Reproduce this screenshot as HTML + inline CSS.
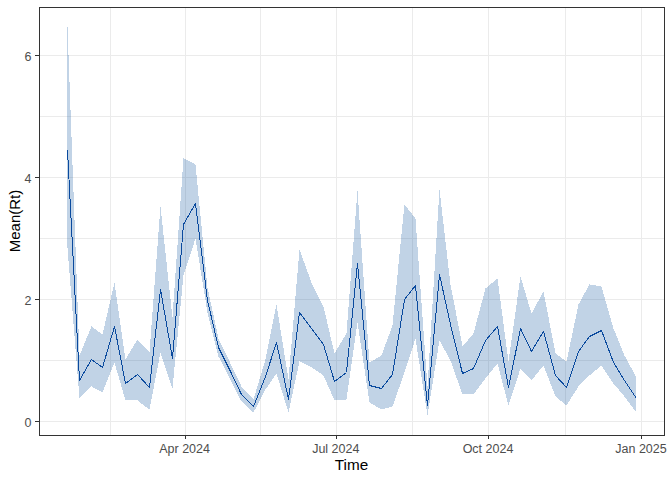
<!DOCTYPE html>
<html><head><meta charset="utf-8"><style>
html,body{margin:0;padding:0;background:#fff;width:672px;height:480px;overflow:hidden}
svg{display:block}
text{font-family:"Liberation Sans",sans-serif}
.ax{font-size:12.5px;fill:#4D4D4D}
.ti{font-size:15.3px;fill:#000}
</style></head><body>
<svg width="672" height="480" viewBox="0 0 672 480">
<rect x="0" y="0" width="672" height="480" fill="#fff"/>
<rect x="40" y="55" width="624" height="1" fill="#EBEBEB"/><rect x="40" y="116" width="624" height="1" fill="#EBEBEB"/><rect x="40" y="177" width="624" height="1" fill="#EBEBEB"/><rect x="40" y="238" width="624" height="1" fill="#EBEBEB"/><rect x="40" y="299" width="624" height="1" fill="#EBEBEB"/><rect x="40" y="360" width="624" height="1" fill="#EBEBEB"/><rect x="40" y="421" width="624" height="1" fill="#EBEBEB"/><rect x="110" y="8" width="1" height="427" fill="#EBEBEB"/><rect x="185" y="8" width="1" height="427" fill="#EBEBEB"/><rect x="260" y="8" width="1" height="427" fill="#EBEBEB"/><rect x="336" y="8" width="1" height="427" fill="#EBEBEB"/><rect x="412" y="8" width="1" height="427" fill="#EBEBEB"/><rect x="488" y="8" width="1" height="427" fill="#EBEBEB"/><rect x="565" y="8" width="1" height="427" fill="#EBEBEB"/><rect x="641" y="8" width="1" height="427" fill="#EBEBEB"/>
<polygon points="67.47,26.47 79.47,355.47 91.47,326.47 102.47,334.47 114.47,282.47 125.47,359.47 137.47,339.47 149.47,352.47 160.47,206.47 172.47,317.47 183.47,158.47 195.47,164.47 207.47,287.47 218.47,338.47 230.47,363.47 241.47,386.47 253.47,399.47 265.47,359.47 276.47,304.47 288.47,379.47 299.47,249.47 311.47,282.47 323.47,306.47 334.47,353.47 346.47,333.47 357.47,190.47 369.47,362.47 381.47,355.47 392.47,325.47 404.47,204.47 415.47,218.47 427.47,386.47 439.47,189.47 450.47,284.47 462.47,346.47 473.47,333.47 485.47,288.47 497.47,278.47 508.47,361.47 520.47,276.47 531.47,313.47 543.47,291.47 555.47,353.47 566.47,361.47 578.47,304.47 589.47,284.47 601.47,286.47 613.47,328.47 624.47,355.47 636.47,377.47 636.47,412.47 624.47,396.47 613.47,383.47 601.47,365.47 589.47,375.47 578.47,386.47 566.47,405.47 555.47,396.47 543.47,365.47 531.47,380.47 520.47,368.47 508.47,405.47 497.47,363.47 485.47,378.47 473.47,394.47 462.47,394.47 450.47,360.47 439.47,340.47 427.47,415.47 415.47,338.47 404.47,372.47 392.47,406.47 381.47,409.47 369.47,402.47 357.47,322.47 346.47,399.47 334.47,400.47 323.47,375.47 311.47,367.47 299.47,361.47 288.47,412.47 276.47,373.47 265.47,389.47 253.47,412.47 241.47,401.47 230.47,379.47 218.47,356.47 207.47,312.47 195.47,238.47 183.47,275.47 172.47,388.47 160.47,352.47 149.47,409.47 137.47,400.47 125.47,400.47 114.47,362.47 102.47,392.47 91.47,386.47 79.47,398.47 67.47,247.47" fill="#08519C" fill-opacity="0.25" shape-rendering="crispEdges"/>
<polyline points="67.50,150.50 79.50,380.50 91.50,359.50 102.50,367.50 114.50,326.50 125.50,383.50 137.50,374.50 149.50,387.50 160.50,289.50 172.50,358.50 183.50,224.50 195.50,203.50 207.50,300.50 218.50,347.50 230.50,371.50 241.50,394.50 253.50,406.50 265.50,376.50 276.50,342.50 288.50,399.50 299.50,312.50 311.50,328.50 323.50,344.50 334.50,381.50 346.50,372.50 357.50,263.50 369.50,385.50 381.50,388.50 392.50,374.50 404.50,299.50 415.50,285.50 427.50,405.50 439.50,274.50 450.50,324.50 462.50,373.50 473.50,368.50 485.50,340.50 497.50,326.50 508.50,387.50 520.50,328.50 531.50,351.50 543.50,331.50 555.50,375.50 566.50,387.50 578.50,351.50 589.50,336.50 601.50,330.50 613.50,362.50 624.50,380.50 636.50,398.50" fill="none" stroke="#0A4A9E" stroke-width="1" stroke-linejoin="round" shape-rendering="crispEdges"/>
<rect x="39.5" y="7.5" width="625" height="428" fill="none" stroke="#333333" stroke-width="1" shape-rendering="crispEdges"/>
<rect x="35" y="55" width="4" height="1" fill="#333333"/><rect x="35" y="177" width="4" height="1" fill="#333333"/><rect x="35" y="299" width="4" height="1" fill="#333333"/><rect x="35" y="421" width="4" height="1" fill="#333333"/><rect x="185" y="436" width="1" height="3" fill="#333333"/><rect x="336" y="436" width="1" height="3" fill="#333333"/><rect x="488" y="436" width="1" height="3" fill="#333333"/><rect x="641" y="436" width="1" height="3" fill="#333333"/>
<text x="31.5" y="426.6" text-anchor="end" class="ax">0</text><text x="31.5" y="304.6" text-anchor="end" class="ax">2</text><text x="31.5" y="182.6" text-anchor="end" class="ax">4</text><text x="31.5" y="60.6" text-anchor="end" class="ax">6</text>
<text x="184.6" y="453" text-anchor="middle" class="ax">Apr 2024</text><text x="335.8" y="453" text-anchor="middle" class="ax">Jul 2024</text><text x="488" y="453" text-anchor="middle" class="ax">Oct 2024</text><text x="641" y="453" text-anchor="middle" class="ax">Jan 2025</text>
<text x="351.5" y="469.5" text-anchor="middle" class="ti">Time</text>
<text transform="translate(19.7,221) rotate(-90)" x="0" y="0" text-anchor="middle" class="ti" style="font-size:15px">Mean(Rt)</text>
</svg>
</body></html>
